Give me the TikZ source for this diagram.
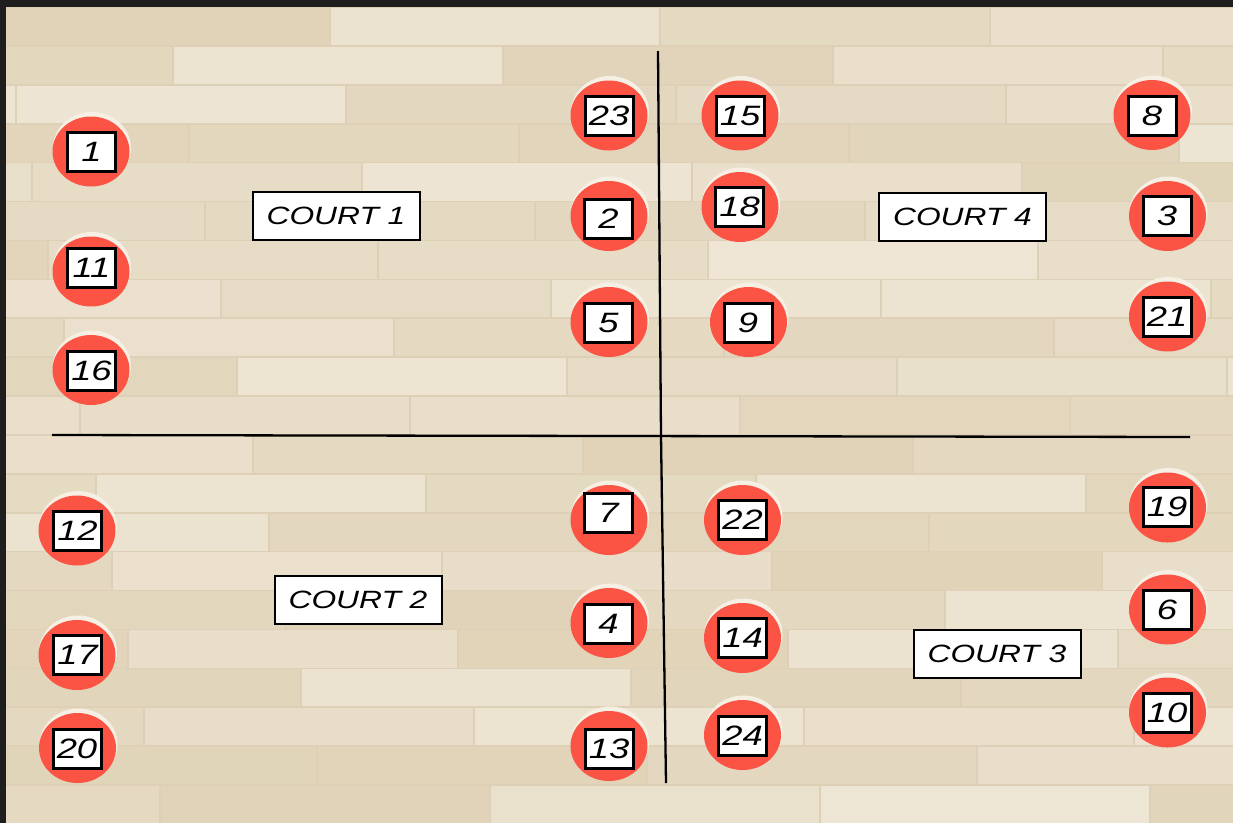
\documentclass[tikz,border=0pt]{standalone}
\usepackage{fontspec}
\usepackage{graphicx}
\usetikzlibrary{shapes.geometric}
\newfontfamily\handfont{Liberation Sans}
\definecolor{woodgap}{RGB}{221,208,182}
\definecolor{wooddark}{RGB}{221,207,178}
\definecolor{woodlight}{RGB}{239,231,215}
\definecolor{frame}{RGB}{30,30,30}
\definecolor{chipred}{RGB}{252,84,68}
\definecolor{halo}{RGB}{246,240,228}
\tikzset{
  numbox/.style={draw=black, fill=white, line width=3pt, minimum width=48pt, minimum height=39pt, inner sep=0pt, font=\handfont\itshape\fontsize{28}{28}\selectfont},
  courtbox/.style={draw=black, fill=white, line width=2pt, minimum width=167pt, minimum height=48pt, inner sep=0pt, font=\handfont\itshape\fontsize{25}{25}\selectfont},
  chip/.style={ellipse, fill=chipred, minimum width=77pt, minimum height=70pt, inner sep=0pt},
  chiphalo/.style={ellipse, fill=halo, minimum width=78pt, minimum height=72pt, inner sep=0pt},
  divider/.style={line width=2.3pt, black},
}
\newcommand\player[5]{%
  \node[chiphalo] (h#1) at (#2+1,#3-3.5) {};
  \node[chip] (c#1) at (#2,#3) {};
  \node[numbox] (n#1) at (#4,#5) {\scalebox{1.3}[1]{#1}};
}
\begin{document}
\begin{tikzpicture}[x=1pt,y=-1pt]
\useasboundingbox (0,0) rectangle (1233,823);
% wood floor
\begin{scope}
  \clip (0,0) rectangle (1233,823);
  \fill[woodgap] (0,0) rectangle (1233,823);
  \pgfmathsetseed{12}
  \foreach \r in {0,...,20}{
    \pgfmathsetmacro\yy{7+\r*38.9}
    \pgfmathsetmacro\off{mod(\r*173,330)-330}
    \foreach \k in {0,...,5}{
      \pgfmathtruncatemacro\pct{random(15,95)}
      \fill[fill=woodlight!\pct!wooddark] (\off+\k*330+1,\yy+0.8) rectangle ++(328,37.3);
    }
  }
\end{scope}
% dark frame
\fill[frame] (0,0) rectangle (1233,7);
\fill[frame] (0,0) rectangle (6,823);
% dividers
\coordinate (vt) at (658,51);
\coordinate (vm) at (661,436);
\coordinate (vb) at (666,783);
\coordinate (hl) at (52,435);
\coordinate (hr) at (1190,437);
\draw[divider] (vt) -- (vm);
\draw[divider] (vm) -- (vb);
\draw[divider] (hl) -- (hr);
% players
\player{1}{91}{151.5}{91.5}{152}
\player{23}{609}{115.5}{609}{116}
\player{15}{740}{115.5}{740}{116}
\player{8}{1152}{115}{1152}{116}
\player{2}{609}{216}{608.5}{219}
\player{18}{740}{207}{739.5}{207}
\player{3}{1167.5}{216}{1167}{216}
\player{11}{91}{271.5}{91.5}{268}
\player{5}{609}{322}{608.5}{322.5}
\player{9}{748.5}{322}{748}{322.5}
\player{21}{1167.5}{316.5}{1167}{316.5}
\player{16}{91}{370}{91.5}{370.5}
\player{12}{77}{530.5}{77.5}{531}
\player{7}{609}{520}{608.5}{512.5}
\player{22}{742.5}{520}{742.5}{520}
\player{19}{1167.5}{507.5}{1167}{507}
\player{4}{609}{623}{608.5}{623.5}
\player{14}{742.5}{638}{742.5}{638}
\player{6}{1167.5}{609.5}{1167}{610}
\player{17}{77}{655}{77.5}{655}
\player{10}{1167.5}{712.5}{1167}{713}
\player{20}{77.5}{748}{77}{748.5}
\player{13}{609}{746}{609}{748.5}
\player{24}{742.5}{735}{742.5}{736}
% courts
\node[courtbox] (court1) at (336,216) {\scalebox{1.27}[1]{COURT 1}};
\node[courtbox] (court4) at (962.5,217) {\scalebox{1.27}[1]{COURT 4}};
\node[courtbox] (court2) at (358,599.5) {\scalebox{1.27}[1]{COURT 2}};
\node[courtbox] (court3) at (997,654) {\scalebox{1.27}[1]{COURT 3}};
\end{tikzpicture}
\end{document}
